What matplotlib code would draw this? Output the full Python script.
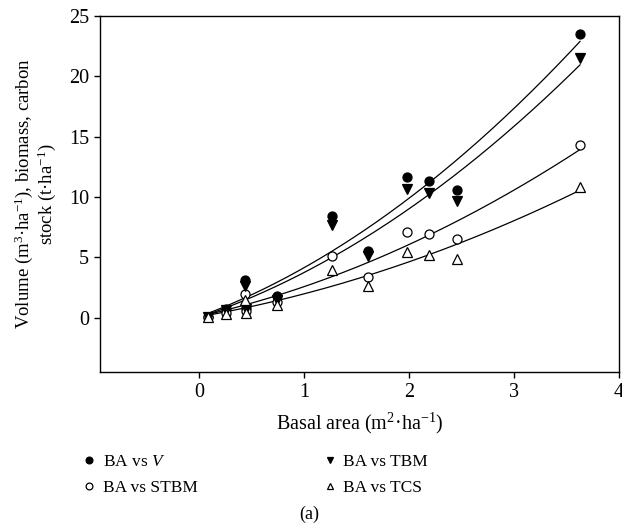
import numpy as np
import matplotlib
matplotlib.use("Agg")
import matplotlib.pyplot as plt

plt.rcParams['font.family'] = ['Liberation Serif', 'DejaVu Serif']
plt.rcParams['mathtext.fontset'] = 'custom'
plt.rcParams['mathtext.rm'] = 'Liberation Serif'
plt.rcParams['mathtext.it'] = 'Liberation Serif:italic'

# basal area (m2/ha) of the plots
ba = [0.09, 0.26, 0.44, 0.45, 0.74, 1.27, 1.61, 1.98, 2.19, 2.46, 3.63]
vol = [0.05, 0.72, 3.08, 0.80, 1.75, 8.42, 5.50, 11.67, 11.33, 10.58, 23.47]
tbm = [0.05, 0.65, 2.60, 0.75, 1.47, 7.67, 5.08, 10.64, 10.30, 9.67, 21.47]
stbm = [0.03, 0.40, 1.95, 0.55, 1.30, 5.14, 3.36, 7.11, 6.89, 6.47, 14.30]
tcs = [0.02, 0.30, 1.47, 0.40, 1.05, 3.97, 2.58, 5.44, 5.22, 4.89, 10.86]

series = [
    ('BA vs $V$', vol, dict(marker='o', color='black', mfc='black')),
    ('BA vs STBM', stbm, dict(marker='o', color='black', mfc='white')),
    ('BA vs TBM', tbm, dict(marker='v', color='black', mfc='black')),
    ('BA vs TCS', tcs, dict(marker='^', color='black', mfc='white')),
]

fig = plt.figure(figsize=(6.22, 5.29), dpi=100)
ax = fig.add_axes([0.161, 0.297, 0.834, 0.673])

x = np.array(ba)
xx = np.linspace(x.min(), x.max(), 200)
handles = []
for label, y, st in series:
    coef = np.polyfit(x, np.array(y), 2)
    ax.plot(xx, np.polyval(coef, xx), color='black', lw=0.9, zorder=2)
    h, = ax.plot(x, y, ls='none', ms=6.5, mew=0.9, label=label, zorder=3, **st)
    handles.append(h)

ax.set_xlim(-0.94, 4)
ax.set_ylim(-4.5, 25)
ax.set_xticks([0, 1, 2, 3, 4])
ax.set_yticks([0, 5, 10, 15, 20, 25])
ax.tick_params(direction='out', length=4, width=1, labelsize=14.5, pad=4)
for s in ax.spines.values():
    s.set_linewidth(1.0)

ax.set_xlabel('Basal area (m$^{2}$·ha$^{-1}$)', fontsize=14.5, labelpad=6)
ax.set_ylabel('Volume (m$^{3}$·ha$^{-1}$), biomass, carbon\nstock (t·ha$^{-1}$)',
              fontsize=13.5, labelpad=8, linespacing=1.0)

fig.legend(handles=handles, ncol=2, frameon=False, fontsize=12.5,
           loc='center', bbox_to_anchor=(0.41, 0.102), columnspacing=7.2,
           handlelength=0.8, handletextpad=0.4, labelspacing=0.55, markerscale=0.75)
fig.text(0.497, 0.027, '(a)', ha='center', va='center', fontsize=13)

fig.savefig('out.png', dpi=100)
